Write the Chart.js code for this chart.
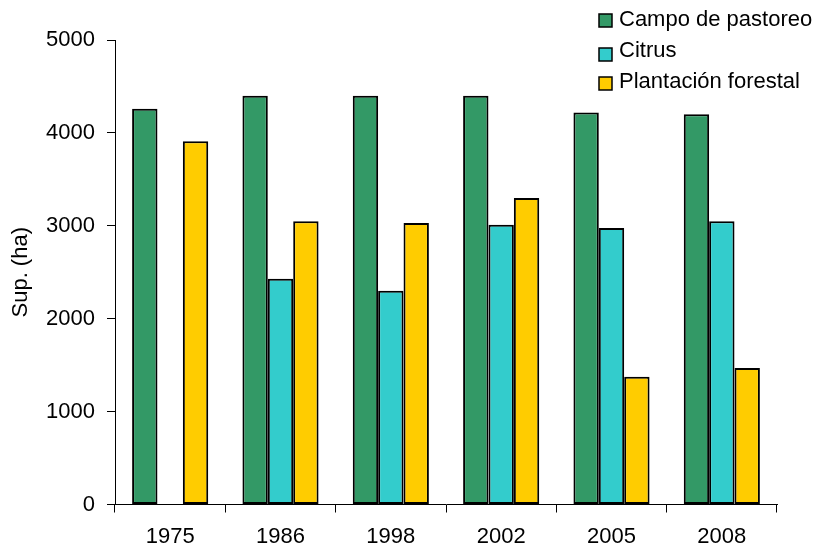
<!DOCTYPE html>
<html>
<head>
<meta charset="utf-8">
<script src="https://cdn.jsdelivr.net/npm/chart.js@4/dist/chart.umd.min.js"></script>
<style>
    html, body { margin: 0; padding: 0; background: #fff; }
    #chart { display: block; }
</style>
</head>
<body>
<canvas id="chart" width="819" height="549"></canvas>
<script>
const years = ['1975', '1986', '1998', '2002', '2005', '2008'];
const campo = [4260, 4400, 4400, 4400, 4220, 4200];
const citrus = [0, 2430, 2300, 3010, 2975, 3050];
const plantacion = [3910, 3050, 3030, 3300, 1375, 1470];
const yTicks = [0, 1000, 2000, 3000, 4000, 5000];

const font = { family: '"Liberation Sans", Arial, sans-serif', size: 22 };

// legend drawn by hand up in the top right corner, over the plot
const legendPlugin = {
    id: 'cornerLegend',
    afterDraw(chart) {
        const ctx = chart.ctx;
        const rows = [
            { box: 21, text: 20 },
            { box: 55, text: 51 },
            { box: 84, text: 82 }
        ];
        ctx.save();
        ctx.font = font.size + 'px ' + font.family;
        ctx.textBaseline = 'middle';
        ctx.textAlign = 'left';
        chart.data.datasets.forEach(function (ds, i) {
            const r = rows[i];
            ctx.fillStyle = ds.backgroundColor;
            ctx.fillRect(599, r.box - 7, 13, 13);
            ctx.lineWidth = 1.5;
            ctx.strokeStyle = '#000';
            ctx.strokeRect(599, r.box - 7, 13, 13);
            ctx.fillStyle = '#000';
            ctx.fillText(ds.label, 619, r.text);
        });
        ctx.restore();
    }
};

new Chart(document.getElementById('chart'), {
    type: 'bar',
    data: {
        labels: years,
        datasets: [
            { label: 'Campo de pastoreo', data: campo, backgroundColor: '#339966' },
            { label: 'Citrus', data: citrus, backgroundColor: '#33CCCC' },
            { label: 'Plantación forestal', data: plantacion, backgroundColor: '#FFCC00' }
        ]
    },
    options: {
        responsive: false,
        animation: false,
        layout: { padding: { top: 40, right: 42, left: 0, bottom: 0 } },
        datasets: {
            bar: {
                borderColor: '#000',
                borderWidth: 2,
                borderSkipped: false,
                categoryPercentage: 0.69,
                barPercentage: 1
            }
        },
        plugins: {
            legend: { display: false },
            tooltip: { enabled: false }
        },
        scales: {
            x: {
                grid: {
                    offset: true,
                    drawOnChartArea: false,
                    drawTicks: true,
                    tickLength: 8,
                    color: '#000'
                },
                border: { display: true, color: '#000', width: 1 },
                ticks: { color: '#000', font: font, padding: 11, maxRotation: 0 },
                afterFit(scale) { scale.height = 44.5; }
            },
            y: {
                min: 0,
                max: 5000,
                afterBuildTicks(scale) {
                    scale.ticks = yTicks.map(function (v) { return { value: v }; });
                },
                grid: {
                    drawOnChartArea: false,
                    drawTicks: true,
                    tickLength: 8,
                    color: '#000'
                },
                border: { display: true, color: '#000', width: 1 },
                ticks: {
                    color: '#000',
                    font: font,
                    padding: 12,
                    callback: function (v) { return String(v); }
                },
                title: {
                    display: true,
                    text: 'Sup. (ha)',
                    color: '#000',
                    font: font,
                    padding: { top: 8, bottom: 0 }
                },
                afterFit(scale) { scale.width = 115; }
            }
        }
    },
    plugins: [legendPlugin]
});
</script>
</body>
</html>
